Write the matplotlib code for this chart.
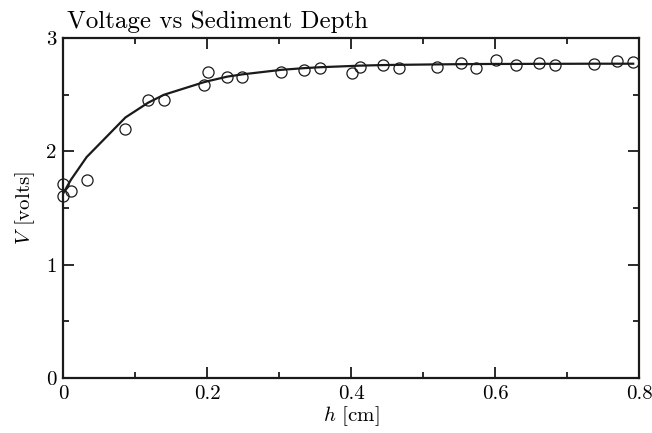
import matplotlib
matplotlib.use('Agg')
import matplotlib.pyplot as plt
from matplotlib.ticker import MultipleLocator, FuncFormatter

# measured sediment depth [cm] and voltage [V]
h = [0.0, 0.0, 0.0107, 0.0325, 0.0865, 0.118, 0.140, 0.195, 0.201, 0.228,
     0.249, 0.303, 0.335, 0.357, 0.401, 0.412, 0.444, 0.466, 0.520, 0.553,
     0.574, 0.601, 0.629, 0.661, 0.683, 0.738, 0.769, 0.792]
V = [1.71, 1.61, 1.65, 1.75, 2.20, 2.45, 2.45, 2.59, 2.70, 2.66,
     2.66, 2.70, 2.72, 2.74, 2.69, 2.745, 2.76, 2.74, 2.745, 2.78,
     2.74, 2.81, 2.76, 2.78, 2.765, 2.77, 2.80, 2.79]

# fitted curve, sampled at the measurement depths
h_fit = [0.0, 0.0107, 0.0325, 0.0865, 0.118, 0.140, 0.195, 0.201, 0.228, 0.249,
         0.303, 0.335, 0.357, 0.401, 0.412, 0.444, 0.466, 0.520, 0.553, 0.574,
         0.601, 0.629, 0.661, 0.683, 0.738, 0.769, 0.792]
V_fit = [1.63, 1.75, 1.95, 2.30, 2.43, 2.50, 2.61, 2.62, 2.66, 2.68,
         2.72, 2.735, 2.743, 2.754, 2.757, 2.762, 2.764, 2.768, 2.77, 2.771,
         2.772, 2.772, 2.773, 2.773, 2.774, 2.774, 2.774]

plt.rcParams.update({
    'font.family': 'serif',
    'font.serif': ['cmr10'],
    'mathtext.fontset': 'cm',
    'axes.formatter.use_mathtext': True,
    'font.size': 15,
})

fig = plt.figure(figsize=(6.52, 4.33), dpi=100)
ax = fig.add_axes([0.097, 0.127, 0.883, 0.785])

ax.plot(h_fit, V_fit, color='#1a1a1a', lw=1.6)
ax.plot(h, V, 'o', ms=8, mfc='none', mec='#1a1a1a', mew=0.9, clip_on=False)

ax.set_xlim(0, 0.8)
ax.set_ylim(0, 3)
ax.xaxis.set_major_locator(MultipleLocator(0.2))
ax.xaxis.set_minor_locator(MultipleLocator(0.1))
ax.yaxis.set_major_locator(MultipleLocator(1))
ax.yaxis.set_minor_locator(MultipleLocator(0.5))
ax.xaxis.set_major_formatter(FuncFormatter(lambda v, p: '%g' % v))
ax.yaxis.set_major_formatter(FuncFormatter(lambda v, p: '%g' % v))
ax.tick_params(which='both', direction='in', top=True, right=True, width=1.3, color='#1a1a1a')
ax.tick_params(which='major', length=8, pad=5)
ax.tick_params(which='minor', length=4.5)
for s in ax.spines.values():
    s.set_linewidth(1.6)
    s.set_color('#1a1a1a')

ax.set_xlabel(r'$h$ [cm]', labelpad=1)
ax.set_ylabel(r'$V$ [volts]', labelpad=6)
ax.set_title('Voltage vs Sediment Depth', loc='left', fontsize=18, pad=7, x=0.006)

fig.savefig('out.png', dpi=100)
